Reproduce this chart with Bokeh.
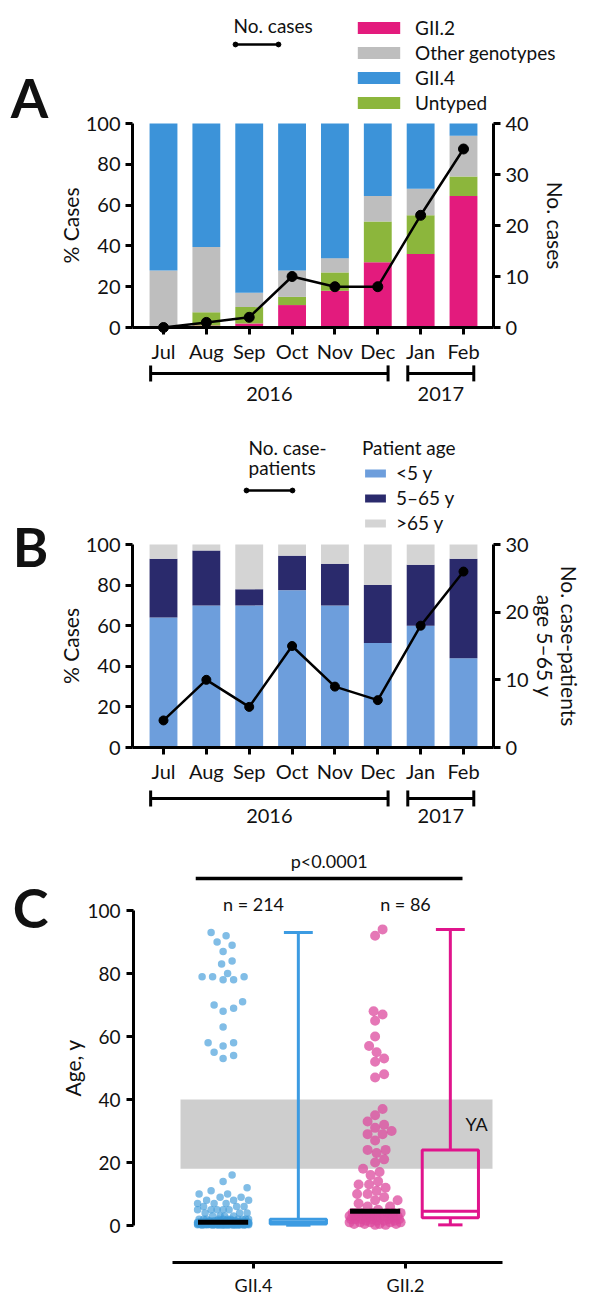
import numpy as np
from bokeh.plotting import figure
from bokeh.models import (ColumnDataSource, Range1d, LinearAxis, FixedTicker, SingleIntervalTicker,
                          Legend, LegendItem, Label, Whisker, TeeHead, BoxAnnotation)
from bokeh.layouts import column
from bokeh.embed import file_html
from bokeh.resources import INLINE

FONT = "Lato"
INK = "#111111"
W = 594

# ---------------- data ----------------
months = ["Jul", "Aug", "Sep", "Oct", "Nov", "Dec", "Jan", "Feb"]
month_year = ["2016", "2016", "2016", "2016", "2016", "2016", "2017", "2017"]
years = ["2016", "2017"]

# Panel A: % of cases by genotype (stacking order bottom -> top)
genotypes = ["GII.2", "Untyped", "Other genotypes", "GII.4"]
a_gii2 = [0, 1, 2, 11, 18, 32, 36, 64.5]
a_untyped = [0, 6.5, 8, 4, 9, 20, 19, 9.5]
a_other = [28, 32, 7, 13, 7, 12.5, 13, 20]
a_gii4 = [72, 60.5, 83, 72, 66, 35.5, 32, 6]
a_cases = [0, 1, 2, 10, 8, 8, 22, 35]
legend_order_a = ["GII.2", "Other genotypes", "GII.4", "Untyped"]

# Panel B: % of cases by patient age
age_groups = ["<5 y", "5\u201365 y", ">65 y"]
b_lt5 = [64, 70, 70, 77.5, 70, 51.5, 60, 44]
b_5to65 = [29, 27, 8, 17, 20.5, 28.5, 30, 49]
b_gt65 = [7, 3, 22, 5.5, 9.5, 20, 10, 7]
b_patients = [4, 10, 6, 15, 9, 7, 18, 26]

# Panel C: patient ages by genotype
c_groups = ["GII.4", "GII.2"]
c_gii4_ages = [
    93, 92, 90, 89, 87, 84, 83, 80, 79, 79, 79, 78, 78, 71, 70, 69, 68, 63, 58, 58, 57, 55, 54, 53,
    16, 14,
    12, 11, 10, 10, 9, 9, 8, 8, 8, 7, 7, 7, 6, 6, 6, 5, 5, 5, 5, 5,
    4, 4, 4, 3, 3, 3, 3,
    2, 2, 2, 2, 2, 2, 2, 2, 2, 2, 2,
    1.5, 1.5, 1.5, 1.5, 1.5, 1.5, 1.5, 1.5,
    1.2, 1.2, 1.2, 1.2, 1.2, 1.2, 1.2, 1.2,
    1, 1, 1, 1, 1, 1, 1, 1, 1, 1, 1, 1, 1, 1, 1,
    1, 1, 1, 1, 1, 1, 1, 1, 1, 1, 1, 1, 1, 1, 1,
    0.9, 0.9, 0.9, 0.9, 0.9, 0.9, 0.9, 0.9, 0.9, 0.9,
    0.8, 0.8, 0.8, 0.8, 0.8, 0.8, 0.8, 0.8, 0.8, 0.8, 0.8, 0.8,
    0.7, 0.7, 0.7, 0.7, 0.7, 0.7, 0.7, 0.7, 0.7, 0.7, 0.7, 0.7,
    0.6, 0.6, 0.6, 0.6, 0.6, 0.6, 0.6, 0.6, 0.6, 0.6, 0.6, 0.6, 0.6, 0.6,
    0.5, 0.5, 0.5, 0.5, 0.5, 0.5, 0.5, 0.5, 0.5, 0.5, 0.5, 0.5, 0.5, 0.5,
    0.4, 0.4, 0.4, 0.4, 0.4, 0.4, 0.4, 0.4, 0.4, 0.4, 0.4, 0.4,
    0.3, 0.3, 0.3, 0.3, 0.3, 0.3, 0.3, 0.3, 0.3, 0.3, 0.3, 0.3,
    0.2, 0.2, 0.2, 0.2, 0.2, 0.2, 0.2, 0.2, 0.2, 0.2,
    0.1, 0.1, 0.1, 0.1, 0.1, 0.1, 0.1, 0.1,
]
c_gii2_ages = [
    94, 92, 68, 67, 65, 60, 57, 55, 53, 52, 48, 47,
    37, 35, 33, 32, 31, 30, 29, 29, 27, 24, 24, 23, 21, 20,
    18, 17, 16, 14, 13, 13, 12, 11, 10, 10, 9, 8, 8, 7, 6, 6, 5,
    4, 4, 4, 4, 4, 4, 4, 3.5, 3.5, 3.5,
    3, 3, 3, 3, 3, 3, 3, 3, 2.5, 2.5, 2.5, 2.5,
    2, 2, 2, 2, 2, 2, 1.5, 1.5, 1.5, 1.5,
    1, 1, 1, 1, 1, 0.5, 0.5, 0.5, 0.5, 0.2, 0.2,
]
ya_range = [18, 40]
p_value_text = "p<0.0001"

# ---------------- colours ----------------
colA = {"GII.2": "#E31B7D", "Untyped": "#8CB63C", "Other genotypes": "#BEBEBE", "GII.4": "#3C93D9"}
colB = ["#6D9EDC", "#2A2A6C", "#D4D4D4"]
c_scatter = ["#3D9AD9", "#DC4A9E"]
c_box = ["#3C9BE2", "#E0148C"]


def style_axis(ax, tick_size="20px", standoff=5):
    ax.axis_line_width = 3
    ax.axis_line_color = "black"
    ax.major_tick_line_width = 3
    ax.major_tick_line_color = "black"
    ax.major_tick_out = 7
    ax.major_tick_in = 0
    ax.minor_tick_line_color = None
    ax.major_label_text_font = FONT
    ax.major_label_text_font_size = tick_size
    ax.major_label_text_color = INK
    ax.major_label_standoff = standoff


def base_fig(height, xr, yr):
    p = figure(width=W, height=height, x_range=xr, y_range=yr, output_backend="svg",
               toolbar_location=None, title=None, min_border_left=0, min_border_right=0,
               min_border_top=0, min_border_bottom=0)
    p.xgrid.visible = False
    p.ygrid.visible = False
    p.outline_line_color = None
    p.background_fill_color = "white"
    p.border_fill_color = "white"
    return p


def text(p, x, y, t, size="20px", angle=0.0, bold=False, align="center"):
    p.add_layout(Label(x=x, y=y, text=t, text_font=FONT, text_font_size=size,
                       text_font_style="bold" if bold else "normal", text_color=INK,
                       text_align=align, text_baseline="middle", angle=angle))


def year_brackets(p, base_y, label_y):
    lows, ups = [], []
    for yr in years:
        idx = [i for i, m in enumerate(month_year) if m == yr]
        lows.append(min(idx) - 0.30)
        ups.append(max(idx) + 0.24)
    src = ColumnDataSource(dict(base=[base_y] * len(years), lower=lows, upper=ups))
    p.add_layout(Whisker(source=src, base="base", lower="lower", upper="upper", dimension="width",
                         line_width=3, line_color="black",
                         lower_head=TeeHead(size=16, line_width=3, line_color="black"),
                         upper_head=TeeHead(size=16, line_width=3, line_color="black")))
    for yr, lo, up in zip(years, lows, ups):
        text(p, (lo + up) / 2, label_y, yr)


def legend_common(**kw):
    d = dict(padding=0, margin=0, border_line_color=None, background_fill_alpha=0,
             label_text_font=FONT, label_text_font_size="19px", label_text_color=INK,
             title_text_font=FONT, title_text_font_size="19px", title_text_font_style="normal",
             title_text_color=INK)
    d.update(kw)
    return Legend(**d)


def line_key(p, ln, mk, x0, x1, yc_local, h):
    """legend key: a line with a dot at each end (yc_local = px from the figure top)"""
    bottom = h - (yc_local + 5)
    p.add_layout(legend_common(items=[LegendItem(label=" ", renderers=[ln])], location=(x0, bottom),
                               glyph_width=x1 - x0, glyph_height=10, label_height=10,
                               label_text_font_size="1px", label_standoff=0))
    for xe in (x0, x1):
        p.add_layout(legend_common(items=[LegendItem(label=" ", renderers=[mk])],
                                   location=(xe - 6, h - (yc_local + 6)), glyph_width=12,
                                   glyph_height=12, label_height=12, label_text_font_size="1px",
                                   label_standoff=0))


# horizontal mapping for panels A and B (month index units, 42.86 px each, Jul at px 163)
x = list(range(len(months)))
PXM = 42.857
XS = -163 / PXM
XE = (W - 163) / PXM
AX_L = (132 - 163) / PXM     # left axis position
AX_R = (493 - 163) / PXM     # right axis position


def bar_axes(p, right_range, right_max):
    ax = p.xaxis[0]
    ax.fixed_location = 0
    ax.bounds = (AX_L, AX_R)
    ax.ticker = FixedTicker(ticks=list(range(len(months))))
    ax.major_label_overrides = {i: m for i, m in enumerate(months)}
    style_axis(ax, standoff=4)
    la = p.yaxis[0]
    la.fixed_location = AX_L
    la.bounds = (0, 100)
    la.ticker = SingleIntervalTicker(interval=20)
    style_axis(la)
    ra = LinearAxis(y_range_name=right_range, bounds=(0, right_max),
                    ticker=SingleIntervalTicker(interval=10), fixed_location=AX_R)
    style_axis(ra)
    p.add_layout(ra, "right")
    text(p, (70 - 163) / PXM, 50, "% Cases", size="21px", angle=np.pi / 2)


# ================= Panel A =================
HA = 408
yA = (-(HA - 327) / 2.04, 100 + 123 / 2.04)
pA = base_fig(HA, Range1d(XS, XE), Range1d(*yA))
pA.extra_y_ranges = {"n": Range1d(yA[0] * 0.4, yA[1] * 0.4)}
srcA = ColumnDataSource(dict(x=x, cases=a_cases, **{"GII.2": a_gii2, "Untyped": a_untyped,
                                                   "Other genotypes": a_other, "GII.4": a_gii4}))
rA = pA.vbar_stack(genotypes, x="x", width=0.65, fill_color=[colA[g] for g in genotypes],
                   line_color=None, source=srcA)
lnA = pA.line("x", "cases", source=srcA, y_range_name="n", line_width=2.5, line_color="black")
mkA = pA.scatter("x", "cases", source=srcA, y_range_name="n", size=10, fill_color="black",
                 line_color="black")
bar_axes(pA, "n", 40)
text(pA, (555 - 163) / PXM, 50, "No. cases", size="21px", angle=-np.pi / 2)
rmap = dict(zip(genotypes, rA))
pA.add_layout(legend_common(items=[LegendItem(label=g, renderers=[rmap[g]]) for g in legend_order_a],
                            location=(352, HA - 114), glyph_width=53, glyph_height=15, label_height=16,
                            spacing=2, label_standoff=10))
text(pA, (233 - 163) / PXM, 100 + (123 - 25) / 2.04, "No. cases", size="19px", align="left")
line_key(pA, lnA, mkA, 235, 278, 44, HA)
year_brackets(pA, -22.5, -32.4)
text(pA, (29 - 163) / PXM, 112.7, "A", size="54px", bold=True)

# ================= Panel B =================
HB = 422
B_TOP = HA
yB = (-(B_TOP + HB - 747) / 2.03, 100 + (544 - B_TOP) / 2.03)
pB = base_fig(HB, Range1d(XS, XE), Range1d(*yB))
pB.extra_y_ranges = {"n": Range1d(yB[0] * 0.3, yB[1] * 0.3)}
srcB = ColumnDataSource(dict(x=x, lt5=b_lt5, mid=b_5to65, gt65=b_gt65, pts=b_patients))
rB = pB.vbar_stack(["lt5", "mid", "gt65"], x="x", width=0.65, fill_color=colB, line_color=None,
                   source=srcB)
lnB = pB.line("x", "pts", source=srcB, y_range_name="n", line_width=2.5, line_color="black")
mkB = pB.scatter("x", "pts", source=srcB, y_range_name="n", size=9, fill_color="black",
                 line_color="black")
bar_axes(pB, "n", 30)
text(pB, (569 - 163) / PXM, 50, "No. case-patients", size="21px", angle=-np.pi / 2)
text(pB, (545 - 163) / PXM, 50, "age 5\u201365 y", size="21px", angle=-np.pi / 2)
B_BOT = B_TOP + HB
pB.add_layout(legend_common(items=[LegendItem(label=g, renderers=[r]) for g, r in zip(age_groups, rB)],
                            title="Patient age", location=(362, B_BOT - 534), glyph_width=26,
                            glyph_height=10, label_height=16, spacing=2, label_standoff=8,
                            title_standoff=2))
line_key(pB, lnB, mkB, 246, 292, 490 - B_TOP, HB)
text(pB, (248 - 163) / PXM, 100 + (544 - 447) / 2.03, "No. case-", size="19px", align="left")
text(pB, (248 - 163) / PXM, 100 + (544 - 467) / 2.03, "patients", size="19px", align="left")
year_brackets(pB, -25.1, -33.5)
text(pB, (30 - 163) / PXM, 99, "B", size="54px", bold=True)

# ================= Panel C =================
PXX, PXY = 152.0, 3.15
c_pos = [1, 2]
C_TOP = B_BOT
HC = 1298 - C_TOP
Y0C = 1225   # page y of age 0


def swarm_offsets(ages, diam, half_w=26.0, step=1.5):
    a = np.asarray(ages, dtype=float)
    order = np.argsort(a, kind="stable")
    cands = [0.0]
    k = 1
    while k * step <= half_w:
        cands += [k * step, -k * step]
        k += 1
    cands = np.array(cands)
    pxs, pys = [], []
    off = np.zeros(len(a))
    for i in order:
        y = a[i] * PXY
        nx = np.array([px for px, py in zip(pxs, pys) if abs(py - y) < diam])
        ny = np.array([py for py in pys if abs(py - y) < diam])
        if len(nx) == 0:
            best = 0.0
        else:
            d = np.sqrt((cands[:, None] - nx[None, :]) ** 2 + (y - ny[None, :]) ** 2).min(axis=1)
            ok = np.nonzero(d >= diam)[0]
            best = cands[ok[0]] if len(ok) else cands[int(np.argmax(d))]
        off[i] = best
        pxs.append(best)
        pys.append(y)
    return off / PXX


def cx(px):
    return 1 + (px - 253) / PXX


def cy(py):
    return (Y0C - py) / PXY


yC = (cy(C_TOP + HC), cy(C_TOP))
pC = base_fig(HC, Range1d(cx(0), cx(W)), Range1d(*yC))
pC.add_layout(BoxAnnotation(left=cx(180), right=cx(492), bottom=ya_range[0], top=ya_range[1],
                            fill_color="#C9C9C9", fill_alpha=0.9, line_color=None, level="underlay"))
for gi, (ages, pos) in enumerate(zip([c_gii4_ages, c_gii2_ages], c_pos)):
    a = np.asarray(ages, dtype=float)
    size = 7.5 if gi == 0 else 10
    offs = swarm_offsets(a, diam=size * (1.4 if gi == 0 else 0.95))
    sx = pos - 0.2 + offs
    pC.scatter(x=sx, y=a, size=size, fill_color=c_scatter[gi], fill_alpha=0.65 if gi == 0 else 0.75,
               line_color=None)
    q1, med, q3 = np.percentile(a, [25, 50, 75])
    lo, hi = a.min(), a.max()
    pC.segment(x0=[pos - 0.2 - 0.165], x1=[pos - 0.2 + 0.165], y0=[med], y1=[med],
               line_color="black", line_width=5)
    bx = pos + 0.295
    col = c_box[gi]
    pC.segment(x0=[bx, bx], x1=[bx, bx], y0=[q3, lo], y1=[hi, q1], line_color=col, line_width=3)
    pC.segment(x0=[bx - 0.095, bx - 0.08], x1=[bx + 0.095, bx + 0.08], y0=[hi, lo], y1=[hi, lo],
               line_color=col, line_width=3)
    pC.vbar(x=[bx], bottom=[q1], top=[q3], width=0.37, fill_color=None, line_color=col, line_width=3)
    pC.segment(x0=[bx - 0.185], x1=[bx + 0.185], y0=[med], y1=[med], line_color=col, line_width=3)
    text(pC, pos, cy(903), "n = %d" % len(ages), size="18px")

px0, px1 = c_pos[0] - 0.38, c_pos[1] + 0.375
pC.segment(x0=[px0], x1=[px1], y0=[cy(878)], y1=[cy(878)], line_color="black", line_width=3.5)
text(pC, (px0 + px1) / 2, cy(860), p_value_text, size="18px")
text(pC, cx(476), cy(1123), "YA", size="18px")
xax = pC.xaxis[0]
xax.fixed_location = cy(1262)
xax.bounds = (cx(172), cx(502))
xax.ticker = FixedTicker(ticks=c_pos)
xax.major_label_overrides = {p: g for p, g in zip(c_pos, c_groups)}
style_axis(xax, tick_size="18px", standoff=5)
xax.major_tick_out = 6
yax = pC.yaxis[0]
yax.fixed_location = cx(133)
yax.bounds = (0, 100)
yax.ticker = SingleIntervalTicker(interval=20)
style_axis(yax, tick_size="19px", standoff=6)
text(pC, cx(72), 50, "Age, y", size="21px", angle=np.pi / 2)
text(pC, cx(30), 101, "C", size="54px", bold=True)

layout = column(pA, pB, pC, spacing=0)
open("out.html", "w").write(file_html(layout, INLINE))
